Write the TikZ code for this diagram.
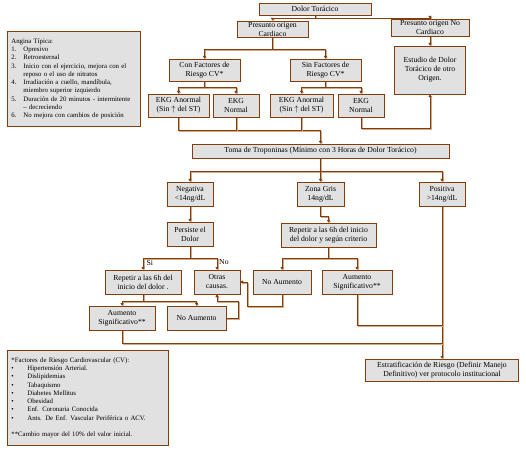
\documentclass[tikz,border=0pt]{standalone}
\usepackage{fontspec}
\setmainfont{Liberation Serif}
\usetikzlibrary{arrows.meta}
\definecolor{brn}{RGB}{132,60,12}
\definecolor{shd}{RGB}{206,172,138}
\definecolor{boxgray}{RGB}{225,225,225}
\newcommand{\boxfont}{\fontsize{7.7}{9}\selectfont}
\newcommand{\notefont}{\fontsize{6.8}{8.3}\selectfont}
\tikzset{
  box/.style={draw=brn, fill=boxgray, line width=0.8pt, align=center, inner sep=1pt, font=\boxfont},
  note/.style={draw=brn, fill=boxgray, line width=0.8pt, align=left, inner sep=4pt, anchor=north west, font=\notefont},
  conn/.style={draw=brn, line width=0.7pt,
               preaction={draw=shd, line width=0.7pt, transform canvas={shift={(0.9pt,-0.9pt)}}}},
  tip/.style={conn, -{Triangle[length=2.6pt,width=3pt]}},
  lbl/.style={inner sep=0.5pt, font=\boxfont}
}
\newcommand{\num}[1]{\makebox[12pt][l]{#1}}
\newcommand{\bul}{\makebox[16pt][l]{\textbullet}}

\begin{document}
\begin{tikzpicture}[x=1pt,y=-1pt]
  \useasboundingbox (0,0) rectangle (526,454);

  % notas
  \node[note, minimum width=133pt, minimum height=95pt, text width=125pt] (angina) at (7,31)
    {Angina Típica:\\
     \num{1.}Opresivo\\
     \num{2.}Retroesternal\\
     \num{3.}Inicio con el ejercicio, mejora con el\\
     \hspace*{12pt}reposo o el uso de nitratos\\
     \num{4.}Irradiación a cuello, mandíbula,\\
     \hspace*{12pt}miembro superior izquierdo\\
     \num{5.}Duración de 20 minutos - intermitente\\
     \hspace*{12pt}– decreciendo\\
     \num{6.}No mejora con cambios de posición};
  \node[note, minimum width=161pt, minimum height=95pt, text width=153pt] (factores) at (7,350)
    {*Factores de Riesgo Cardiovascular (CV):\\
     \bul Hipertensión Arterial.\\
     \bul Dislipidemias\\
     \bul Tabaquismo\\
     \bul Diabetes Mellitus\\
     \bul Obesidad\\
     \bul Enf. Coronaria Conocida\\
     \bul Ants. De Enf. Vascular Periférica o ACV.\\[8.3pt]
     **Cambio mayor del 10\% del valor inicial.};

  % cajas
  \node[box, minimum width=112pt, minimum height=12pt] (dolor) at (315,9) {Dolor Torácico};
  \node[box, minimum width=71pt, minimum height=16pt] (cardio) at (272.5,29) {Presunto origen\\Cardiaco};
  \node[box, minimum width=78pt, minimum height=17pt] (nocardio) at (430,27.5) {Presunto origen No\\Cardiaco};
  \node[box, minimum width=71pt, minimum height=48pt] (estudio) at (430,70) {Estudio de Dolor\\Torácico de otro\\Origen.};
  \node[box, minimum width=71pt, minimum height=22pt] (confr) at (204.5,70) {Con Factores de\\Riesgo CV*};
  \node[box, minimum width=71pt, minimum height=22pt] (sinfr) at (325.5,70) {Sin Factores de\\Riesgo CV*};
  \node[box, minimum width=61pt, minimum height=23pt] (ekgAl) at (178.5,105.5) {EKG Anormal\\(Sin $\uparrow$ del ST)};
  \node[box, minimum width=46pt, minimum height=23pt] (ekgNl) at (236,105.5) {EKG\\Normal};
  \node[box, minimum width=63pt, minimum height=23pt] (ekgAr) at (301.5,105.5) {EKG Anormal\\(Sin $\uparrow$ del ST)};
  \node[box, minimum width=46pt, minimum height=23pt] (ekgNr) at (361,105.5) {EKG\\Normal};
  \node[box, minimum width=257pt, minimum height=14pt] (toma) at (320.5,151) {Toma de Troponinas (Mínimo con 3 Horas de Dolor Torácico)};
  \node[box, minimum width=46pt, minimum height=24pt] (neg) at (190,194) {Negativa\\<14ng/dL};
  \node[box, minimum width=47pt, minimum height=24pt] (gris) at (320.5,194) {Zona Gris\\14ng/dL};
  \node[box, minimum width=46pt, minimum height=24pt] (pos) at (442,194) {Positiva\\>14ng/dL};
  \node[box, minimum width=46pt, minimum height=24pt] (persiste) at (190,234) {Persiste el\\Dolor};
  \node[box, minimum width=76pt, minimum height=24pt] (repL) at (143,282) {Repetir a las 6h del\\inicio del dolor .};
  \node[box, minimum width=46pt, minimum height=24pt] (otras) at (217,282) {Otras\\causas.};
  \node[box, minimum width=66pt, minimum height=24pt] (aumL) at (122,318) {Aumento\\Significativo**};
  \node[box, minimum width=59pt, minimum height=24pt] (noaumL) at (196.5,318) {No Aumento};
  \node[box, minimum width=95pt, minimum height=24pt] (repR) at (328.5,235) {Repetir a las 6h del inicio\\del dolor y  según criterio};
  \node[box, minimum width=58pt, minimum height=24pt] (noaumR) at (282,282) {No Aumento};
  \node[box, minimum width=70pt, minimum height=24pt] (aumR) at (357,282) {Aumento\\Significativo**};
  \node[box, minimum width=153pt, minimum height=22pt] (estrat) at (442,370) {Estratificación de Riesgo (Definir Manejo\\Definitivo) ver protocolo institucional};

  \node[lbl, anchor=west] (si) at (146,262.5) {Si};
  \node[lbl, anchor=west] (no) at (218.5,262) {No};

  % puntos de union
  \coordinate (jtoma) at (320.5,130);
  \coordinate (kL) at (238,301);
  \coordinate (kR) at (247,282);
  \coordinate (jR) at (442,325);
  \coordinate (jL) at (442,343);

  % conectores
  \draw[tip] (dolor.south) -- ++(0,2.5) -| (cardio.north);
  \draw[tip] (dolor.south) -- ++(0,2.5) -| (nocardio.north);
  \draw[tip] (nocardio.south) -- (estudio.north);
  \draw[tip] (cardio.south) -- ++(0,12) -| (confr.north);
  \draw[tip] (cardio.south) -- ++(0,12) -| (sinfr.north);
  \draw[tip] (confr.south) -- ++(0,6) -| (ekgAl.north);
  \draw[tip] (confr.south) -- ++(0,6) -| (ekgNl.north);
  \draw[tip] (sinfr.south) -- ++(0,6) -| (ekgAr.north);
  \draw[tip] (sinfr.south) -- ++(0,6) -| (ekgNr.north);

  \draw[tip] (ekgAl.south) |- (jtoma) -- (toma.north);
  \draw[conn] (ekgNl.south) -- (ekgNl.south |- jtoma);
  \draw[conn] (ekgAr.south) -- (ekgAr.south |- jtoma);
  \draw[tip] (ekgNr.south) -- ++(0,11) -| (estudio.south);

  \draw[tip] (toma.south) -- ++(0,13) -| (neg.north);
  \draw[tip] (toma.south) -- ++(0,13) -| (gris.north);
  \draw[tip] (toma.south) -- ++(0,13) -| (pos.north);

  \draw[tip] (neg.south) -- (persiste.north);
  \draw[tip] (persiste.south) -- ++(0,12) -| (repL.north);
  \draw[tip] (persiste.south) -- ++(0,12) -| (otras.north);
  \draw[tip] (repL.south) -- ++(0,7) -| (aumL.north);
  \draw[tip] (repL.south) -- ++(0,7) -| (noaumL.north);
  \draw[tip] (noaumL.east) -| (kL) -| (otras.south);

  \draw[tip] (gris.south) -- ++(0,10) -| (repR.north);
  \draw[tip] (repR.south) -- ++(0,11) -| (noaumR.north);
  \draw[tip] (repR.south) -- ++(0,11) -| (aumR.north);
  \draw[tip] (noaumR.south) -- ++(0,12) -| (kR) -- (otras.east);

  \draw[tip] (pos.south) -- (estrat.north);
  \draw[conn] (aumR.south) |- (jR);
  \draw[conn] (aumL.south) |- (jL);
\end{tikzpicture}
\end{document}
